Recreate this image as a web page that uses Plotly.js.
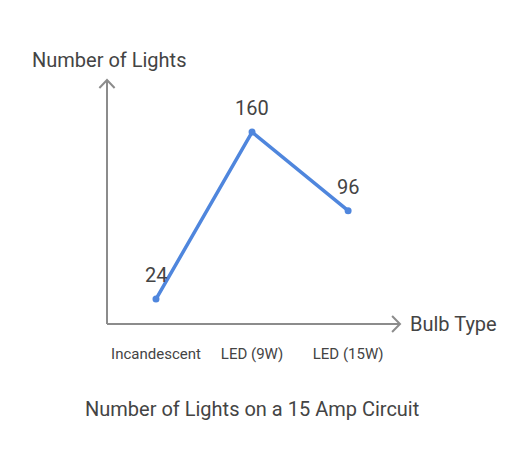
<!DOCTYPE html>
<html>
<head>
<meta charset="utf-8">
<script src="https://cdn.plot.ly/plotly-3.0.1.min.js"></script>
<style>
  html, body { margin: 0; padding: 0; background: #fff; }
  #chart { width: 528px; height: 468px; }
</style>
</head>
<body>
<div id="chart"></div>
<script>
// data
const bulbTypes = ['Incandescent', 'LED (9W)', 'LED (15W)'];
const lightCounts = [24, 160, 96];

const lineColor = '#4f86dd';
const axisColor = '#8c8c8c';
const textColor = '#444444';

let lightsTrace = {
  x: bulbTypes,
  y: lightCounts,
  type: 'scatter',
  mode: 'lines+markers',
  line: { color: lineColor, width: 3.5 },
  marker: { color: lineColor, size: 7 },
  cliponaxis: false,
  hoverinfo: 'none'
};

// value labels above each point
let valueLabels = bulbTypes.map((b, i) => ({
  x: b,
  y: lightCounts[i],
  text: String(lightCounts[i]),
  showarrow: false,
  yshift: 24,
  font: { family: 'Roboto', size: 20, color: textColor }
}));

let layout = {
  width: 528,
  height: 468,
  margin: { l: 107, r: 128, t: 80, b: 144 },
  paper_bgcolor: '#fff',
  plot_bgcolor: '#fff',
  showlegend: false,
  font: { family: 'Roboto', color: textColor },
  xaxis: {
    type: 'category',
    range: [-0.51, 2.54],
    showgrid: false,
    zeroline: false,
    showline: false,
    ticks: '',
    ticklabelstandoff: 19,
    tickfont: { family: 'Roboto', size: 15, color: textColor },
    fixedrange: true
  },
  yaxis: {
    range: [3.7, 202.4],
    showgrid: false,
    zeroline: false,
    showline: false,
    showticklabels: false,
    ticks: '',
    fixedrange: true
  },
  shapes: [
    // y axis with open arrowhead
    { type: 'line', xref: 'paper', yref: 'paper', x0: 0, x1: 0, y0: 0, y1: 1,
      line: { color: axisColor, width: 2 } },
    { type: 'path', xref: 'paper', yref: 'paper',
      path: 'M -0.026,0.967 L 0,1 L 0.026,0.967',
      line: { color: axisColor, width: 2 } },
    // x axis with open arrowhead
    { type: 'line', xref: 'paper', yref: 'paper', x0: 0, x1: 1, y0: 0, y1: 0,
      line: { color: axisColor, width: 2 } },
    { type: 'path', xref: 'paper', yref: 'paper',
      path: 'M 0.973,0.033 L 1,0 L 0.973,-0.033',
      line: { color: axisColor, width: 2 } }
  ],
  annotations: valueLabels.concat([
    { text: 'Number of Lights', xref: 'paper', yref: 'paper', x: -0.262, y: 1.082,
      xanchor: 'left', yanchor: 'middle', showarrow: false,
      font: { family: 'Roboto', size: 20, color: textColor } },
    { text: 'Bulb Type', xref: 'paper', yref: 'paper', x: 1.027, y: 0,
      xanchor: 'left', yanchor: 'middle', showarrow: false,
      font: { family: 'Roboto', size: 20, color: textColor } },
    { text: 'Number of Lights on a 15 Amp Circuit', xref: 'paper', yref: 'paper', x: 0.495, y: -0.35,
      xanchor: 'center', yanchor: 'middle', showarrow: false,
      font: { family: 'Roboto', size: 20, color: textColor } }
  ])
};

let staticConfig = { staticPlot: true, displayModeBar: false };

Plotly.newPlot('chart', [lightsTrace], layout, staticConfig);
</script>
</body>
</html>
